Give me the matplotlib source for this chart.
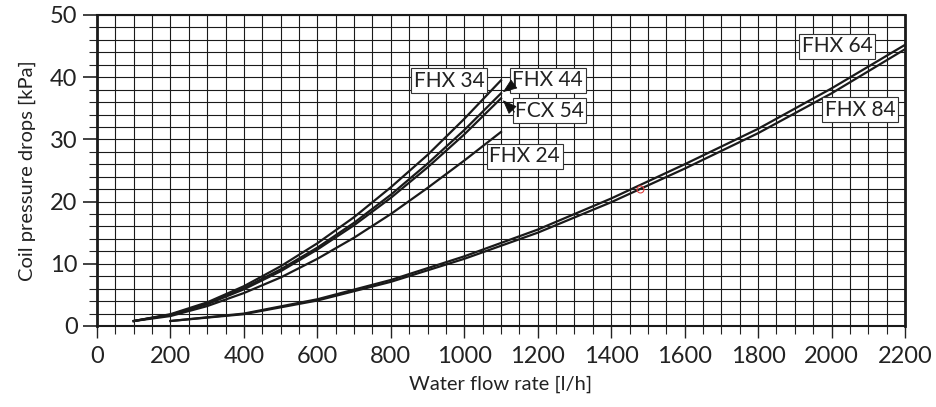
import matplotlib
matplotlib.use("Agg")
import matplotlib.pyplot as plt
import numpy as np

plt.rcParams['font.family'] = ['Lato', 'DejaVu Sans']

# Upper group (flow 100..1100 l/h)
flow_small = [100, 200, 300, 400, 500, 600, 700, 800, 900, 1000, 1100]
fhx34 = [0.8, 1.9, 3.8, 6.4, 9.6, 13.3, 17.5, 22.3, 27.5, 33.3, 39.5]
fhx44 = [0.8, 1.8, 3.6, 6.1, 9.1, 12.6, 16.6, 21.1, 26.1, 31.5, 37.4]
fcx54 = [0.8, 1.8, 3.5, 5.9, 8.8, 12.3, 16.2, 20.6, 25.5, 30.8, 36.6]
fhx24 = [0.8, 1.6, 3.2, 5.3, 7.8, 10.8, 14.2, 18.0, 22.2, 26.6, 31.2]

# Lower group (flow 200..2200 l/h)
flow_large = [200, 400, 600, 800, 1000, 1200, 1400, 1600, 1800, 2000, 2200]
fhx64 = [0.8, 2.0, 4.3, 7.4, 11.2, 15.5, 20.5, 26.0, 31.7, 38.2, 45.2]
fhx84 = [0.8, 1.9, 4.1, 7.1, 10.8, 15.0, 19.9, 25.3, 31.0, 37.4, 44.5]

# small red marker seen on the chart
marker_x = [1478]
marker_y = [22.0]

x_ticks = [0, 200, 400, 600, 800, 1000, 1200, 1400, 1600, 1800, 2000, 2200]
y_ticks = [0, 10, 20, 30, 40, 50]

fig = plt.figure(figsize=(9.37, 4.07), dpi=100)
ax = fig.add_axes([97/937, 1-326/407, (905-97)/937, (326-15)/407])

ax.set_xlim(0, 2200)
ax.set_ylim(0, 50)

# grid
for gx in np.arange(0, 2201, 50):
    ax.axvline(gx, color='#1a1a1a', lw=0.8, zorder=1)
for gy in np.arange(0, 50.1, 2):
    ax.axhline(gy, color='#1a1a1a', lw=0.8, zorder=1)

lw = 1.6
ax.plot(flow_small, fhx34, color='#1a1a1a', lw=lw, zorder=3)
ax.plot(flow_small, fhx44, color='#1a1a1a', lw=lw, zorder=3)
ax.plot(flow_small, fcx54, color='#1a1a1a', lw=lw, zorder=3)
ax.plot(flow_small, fhx24, color='#1a1a1a', lw=lw, zorder=3)
ax.plot(flow_large, fhx64, color='#1a1a1a', lw=lw, zorder=3)
ax.plot(flow_large, fhx84, color='#1a1a1a', lw=lw, zorder=3)
ax.plot(marker_x, marker_y, 'o', mfc='none', mec='#e04040', ms=5, mew=0.8, zorder=4)

box = dict(boxstyle='square,pad=0.12', fc='white', ec='#333333', lw=0.8)
fs = 15
ax.text(959, 39.4, 'FHX 34', ha='center', va='center', fontsize=fs, color='#222', bbox=box, zorder=5)
ax.text(1227, 39.5, 'FHX 44', ha='center', va='center', fontsize=fs, color='#222', bbox=box, zorder=5)
ax.text(1232, 34.6, 'FCX 54', ha='center', va='center', fontsize=fs, color='#222', bbox=box, zorder=5)
ax.text(1165, 27.3, 'FHX 24', ha='center', va='center', fontsize=fs, color='#222', bbox=box, zorder=5)
ax.text(2015, 45.0, 'FHX 64', ha='center', va='center', fontsize=fs, color='#222', bbox=box, zorder=5)
ax.text(2078, 34.8, 'FHX 84', ha='center', va='center', fontsize=fs, color='#222', bbox=box, zorder=5)

arrow = dict(arrowstyle='-|>,head_length=0.9,head_width=0.35', color='#111', lw=0.6, shrinkA=0, shrinkB=0)
ax.annotate('', xy=(1105, 37.6), xytext=(1133, 38.8), arrowprops=arrow, zorder=6)
ax.annotate('', xy=(1105, 36.3), xytext=(1137, 34.4), arrowprops=arrow, zorder=6)

ax.set_xticks(x_ticks)
ax.set_xticklabels([str(v) for v in x_ticks])
ax.set_yticks(y_ticks)
ax.set_yticklabels([str(v) for v in y_ticks])
ax.set_xticks(np.arange(0, 2201, 50), minor=True)
ax.set_yticks(np.arange(0, 50.1, 2), minor=True)

ax.tick_params(axis='x', which='major', length=8.5, width=1.0, pad=6, labelsize=17, colors='#222')
ax.tick_params(axis='x', which='minor', length=5.5, width=0.8, colors='#222')
ax.tick_params(axis='y', which='major', length=10, width=1.2, pad=4, labelsize=17, colors='#222')
ax.tick_params(axis='y', which='minor', length=5.5, width=0.8, colors='#222')

for side in ['left', 'right']:
    ax.spines[side].set_linewidth(2.0)
for side in ['top', 'bottom']:
    ax.spines[side].set_linewidth(1.5)
for s in ax.spines.values():
    s.set_color('#1a1a1a')
    s.set_zorder(7)

ax.set_xlabel('Water flow rate [l/h]', fontsize=14.5, color='#222', labelpad=6)
ax.set_ylabel('Coil pressure drops [kPa]', fontsize=14.5, color='#222', labelpad=10)

fig.savefig('out.png', dpi=100)
